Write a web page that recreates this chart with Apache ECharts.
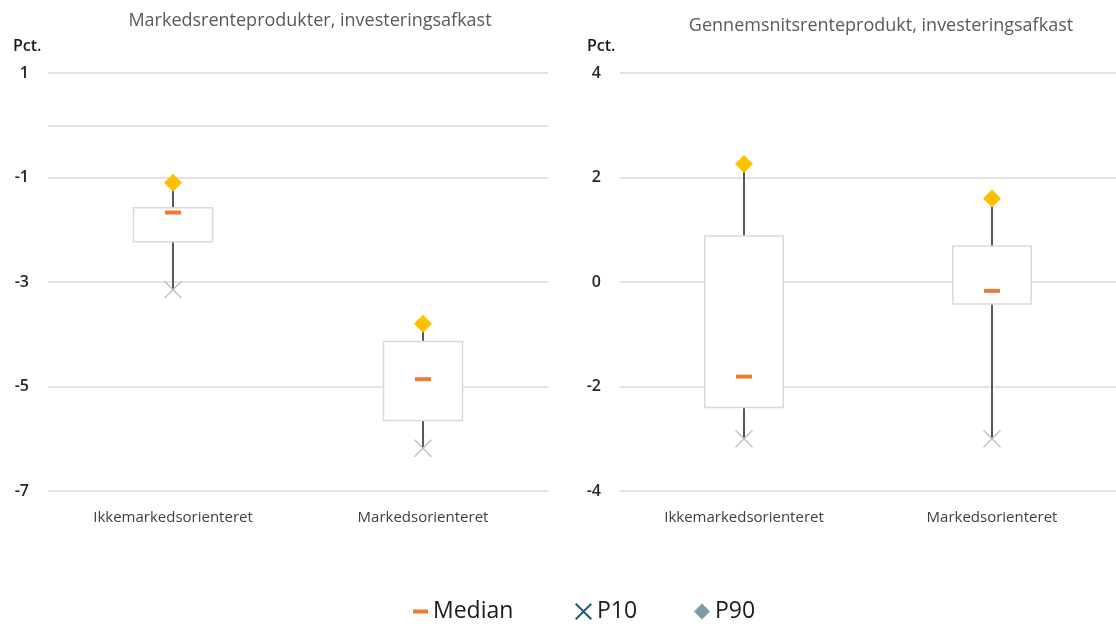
<!DOCTYPE html>
<html>
<head>
<meta charset="utf-8">
<script src="https://cdn.jsdelivr.net/npm/echarts@6/dist/echarts.min.js"></script>
<style>html,body{margin:0;padding:0;background:#fff}#chart{width:1116px;height:624px}</style>
</head>
<body>
<div id="chart"></div>
<script>
// ---- Data ----
const categories = ['Ikkemarkedsorienteret', 'Markedsorienteret'];
const leftTitle = 'Markedsrenteprodukter, investeringsafkast';
const rightTitle = 'Gennemsnitsrenteprodukt, investeringsafkast';
const unitLabel = 'Pct.';

// Markedsrenteprodukter (left)
const leftP10 = [-3.15, -6.18];
const leftP25 = [-2.23, -5.65];
const leftMedian = [-1.67, -4.86];
const leftP75 = [-1.58, -4.14];
const leftP90 = [-1.1, -3.8];

// Gennemsnitsrenteprodukt (right)
const rightP10 = [-3.0, -3.0];
const rightP25 = [-2.4, -0.42];
const rightMedian = [-1.81, -0.17];
const rightP75 = [0.88, 0.69];
const rightP90 = [2.26, 1.6];

const leftAxis = {min: -7, max: 1, interval: 2};
const rightAxis = {min: -4, max: 4, interval: 2};

// ---- Chart ----
const FONT = 'Open Sans';
const xPath = 'path://M0,1 L1,0 L9,8 L17,0 L18,1 L10,9 L18,17 L17,18 L9,10 L1,18 L0,17 L8,9 Z';
const xPathLegend = 'path://M0,1.5 L1.5,0 L9,7.5 L16.5,0 L18,1.5 L10.5,9 L18,16.5 L16.5,18 L9,10.5 L1.5,18 L0,16.5 L7.5,9 Z';

function boxData(p10, p25, p75, p90) {
  return categories.map((c, i) => [i, p10[i], p25[i], p75[i], p90[i]]);
}
function renderBox(params, api) {
  const x = api.value(0);
  const pLow = api.coord([x, api.value(1)]);
  const pQ1 = api.coord([x, api.value(2)]);
  const pQ3 = api.coord([x, api.value(3)]);
  const pHigh = api.coord([x, api.value(4)]);
  const bw = api.size([1, 0])[0] * 0.316;
  return {
    type: 'group',
    children: [
      {type: 'line', shape: {x1: pLow[0], y1: pLow[1], x2: pQ1[0], y2: pQ1[1]}, style: {stroke: '#595959', lineWidth: 2}},
      {type: 'line', shape: {x1: pQ3[0], y1: pQ3[1], x2: pHigh[0], y2: pHigh[1]}, style: {stroke: '#595959', lineWidth: 2}},
      {type: 'rect', shape: {x: pQ1[0] - bw / 2, y: pQ3[1], width: bw, height: pQ1[1] - pQ3[1]}, style: {fill: '#ffffff', stroke: '#D9D9D9', lineWidth: 1.5}}
    ]
  };
}
function pts(arr) { return arr.map((v, i) => [i, v]); }

function xAxisCfg(gi) {
  return {
    type: 'category', gridIndex: gi, data: categories,
    axisLine: {show: false}, axisTick: {show: false},
    axisLabel: {fontFamily: FONT, fontSize: 15, color: '#404040', margin: 19}
  };
}
function yAxisCfg(gi, ax) {
  return {
    type: 'value', gridIndex: gi, min: ax.min, max: ax.max, interval: ax.interval,
    axisLine: {show: false}, axisTick: {show: false},
    axisLabel: {fontFamily: FONT, fontSize: 16, fontWeight: 600, color: '#262626', margin: 19},
    splitLine: {lineStyle: {color: '#D9D9D9', width: 1.5}}
  };
}
function seriesFor(gi, p10, p25, med, p75, p90, extra) {
  const box = {
    type: 'custom', xAxisIndex: gi, yAxisIndex: gi, renderItem: renderBox,
    data: boxData(p10, p25, p75, p90), encode: {x: 0, y: [1, 2, 3, 4]}, z: 2, silent: true
  };
  if (extra) box.markLine = extra;
  return [
    box,
    {name: 'Median', type: 'scatter', xAxisIndex: gi, yAxisIndex: gi, data: pts(med), symbol: 'rect', symbolSize: [16, 4], itemStyle: {color: '#ED7D31', opacity: 1}, z: 5},
    {name: 'P10', type: 'scatter', xAxisIndex: gi, yAxisIndex: gi, data: pts(p10), symbol: xPath, symbolSize: 18, itemStyle: {color: '#BFBFBF', opacity: 1}, z: 4},
    {name: 'P90', type: 'scatter', xAxisIndex: gi, yAxisIndex: gi, data: pts(p90), symbol: 'diamond', symbolSize: 18, itemStyle: {color: '#FFC000', opacity: 1}, z: 5}
  ];
}

const legendText = {fontFamily: FONT, fontSize: 23, color: '#1a1a1a'};
const chart = echarts.init(document.getElementById('chart'), null, {renderer: 'canvas'});
chart.setOption({
  animation: false,
  backgroundColor: '#fff',
  title: [
    {text: leftTitle, left: 305, top: 7, textAlign: 'center', textStyle: {fontFamily: FONT, fontSize: 18, fontWeight: 'normal', color: '#595959'}},
    {text: rightTitle, left: 876, top: 12, textAlign: 'center', textStyle: {fontFamily: FONT, fontSize: 18, fontWeight: 'normal', color: '#595959'}},
    {text: unitLabel, left: 8, top: 33, textStyle: {fontFamily: FONT, fontSize: 16, fontWeight: 600, color: '#1a1a1a'}},
    {text: unitLabel, left: 582, top: 33, textStyle: {fontFamily: FONT, fontSize: 16, fontWeight: 600, color: '#1a1a1a'}}
  ],
  grid: [
    {left: 48, top: 73, width: 500, height: 418},
    {left: 620, top: 73, width: 500, height: 418}
  ],
  xAxis: [xAxisCfg(0), xAxisCfg(1)],
  yAxis: [yAxisCfg(0, leftAxis), yAxisCfg(1, rightAxis)],
  legend: [
    {data: [{name: 'Median', icon: 'rect'}], left: 408, top: 595, itemWidth: 15, itemHeight: 4, textStyle: legendText, selectedMode: false},
    {data: [{name: 'P10', icon: xPathLegend, itemStyle: {color: '#1F5F6B', opacity: 1}}], left: 570, top: 595, itemWidth: 17, itemHeight: 17, textStyle: legendText, selectedMode: false},
    {data: [{name: 'P90', icon: 'diamond', itemStyle: {color: '#7F9BA6', opacity: 1}}], left: 689, top: 595, itemWidth: 16, itemHeight: 16, textStyle: legendText, selectedMode: false}
  ],
  series: [
    ...seriesFor(0, leftP10, leftP25, leftMedian, leftP75, leftP90, {
      silent: true, symbol: 'none', label: {show: false},
      lineStyle: {color: '#D9D9D9', width: 1.5, type: 'solid'},
      data: [{yAxis: 0}]
    }),
    ...seriesFor(1, rightP10, rightP25, rightMedian, rightP75, rightP90, null)
  ]
});
</script>
</body>
</html>
